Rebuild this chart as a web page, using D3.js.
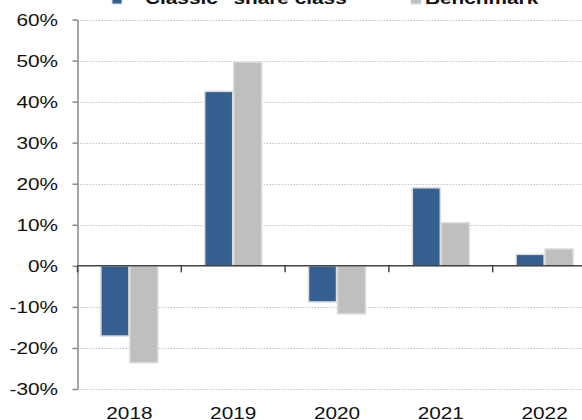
<!DOCTYPE html>
<html>
<head>
<meta charset="utf-8">
<script src="https://cdn.jsdelivr.net/npm/d3@7"></script>
<style>
  html, body { margin: 0; padding: 0; background: #fff; }
  svg { display: block; font-family: Arial, "Liberation Sans", sans-serif; }
</style>
</head>
<body>
<svg id="chart" width="582" height="420"></svg>
<script>
const categories = ["2018", "2019", "2020", "2021", "2022"];
const seriesNames = ["Classic\" share class", "Benchmark"];
const classicValues = [-17.1, 42.5, -8.8, 19.0, 2.8];
const benchmarkValues = [-23.6, 49.6, -11.7, 10.5, 4.1];
const yTickValues = [-30, -20, -10, 0, 10, 20, 30, 40, 50, 60];

const colors = { classic: "#365f91", bench: "#bfbfbf" };
const SX = 1.3; // horizontal stretch of text

const svg = d3.select("#chart");
const left = 77.5, step = 103.8;
const x = d3.scaleBand().domain(categories).range([left, left + step * categories.length]).padding(0);
const y = d3.scaleLinear().domain([-30, 60]).range([389, 19.5]);

// gridlines
svg.append("g").selectAll("line").data(yTickValues.filter(d => d !== 0)).join("line")
  .attr("x1", left).attr("x2", 582)
  .attr("y1", d => Math.round(y(d)) + 0.5).attr("y2", d => Math.round(y(d)) + 0.5)
  .attr("stroke", "#c4c4c4").attr("stroke-width", 1).attr("stroke-dasharray", "1.5,1.5");

// bars
const barW = 28;
const data = categories.map((c, i) => ({ c, a: classicValues[i], b: benchmarkValues[i] }));
const bars = svg.append("g");
bars.selectAll("rect.a").data(data).join("rect").attr("class", "a")
  .attr("x", d => x(d.c) + x.bandwidth() / 2 - barW - 0.5)
  .attr("width", barW)
  .attr("y", d => y(Math.max(0, d.a)))
  .attr("height", d => Math.abs(y(d.a) - y(0)))
  .attr("fill", colors.classic).attr("stroke", "#dcdcdc").attr("stroke-width", 1.5);
bars.selectAll("rect.b").data(data).join("rect").attr("class", "b")
  .attr("x", d => x(d.c) + x.bandwidth() / 2 + 0.5)
  .attr("width", barW)
  .attr("y", d => y(Math.max(0, d.b)))
  .attr("height", d => Math.abs(y(d.b) - y(0)))
  .attr("fill", colors.bench).attr("stroke", "#dcdcdc").attr("stroke-width", 1.5);

// y axis
const yAxis = svg.append("g").attr("transform", `translate(${left},0)`)
  .call(d3.axisLeft(y).tickValues(yTickValues).tickSize(5).tickSizeOuter(0).tickFormat(d => d + "%"));
yAxis.select(".domain").attr("stroke", "#888").attr("stroke-width", 1.5);
yAxis.selectAll(".tick line").attr("stroke", "#888").attr("stroke-width", 1.5);
yAxis.selectAll(".tick text")
  .attr("x", -(left - 58) / SX).attr("dy", "0.36em")
  .attr("transform", `scale(${SX},1)`)
  .attr("font-size", 16).attr("fill", "#111").attr("font-family", "Arial, 'Liberation Sans', sans-serif");

// zero line
svg.append("line").attr("x1", left).attr("x2", left + step * categories.length)
  .attr("y1", y(0)).attr("y2", y(0)).attr("stroke", "#444").attr("stroke-width", 1.5);

// x ticks at band boundaries
const bounds = categories.map(c => x(c));
svg.append("g").selectAll("line").data(bounds).join("line")
  .attr("x1", d => d).attr("x2", d => d)
  .attr("y1", y(0)).attr("y2", y(0) + 6.5)
  .attr("stroke", "#444").attr("stroke-width", 1.5);

// x labels
svg.append("g").selectAll("text").data(categories).join("text")
  .attr("transform", d => `translate(${x(d) + x.bandwidth() / 2},418.5) scale(${SX},1)`)
  .attr("text-anchor", "middle").attr("font-size", 16).attr("fill", "#111")
  .text(d => d);

// legend
const legend = [
  { name: seriesNames[0], color: colors.classic, sx: 112, tx: 145 },
  { name: seriesNames[1], color: colors.bench, sx: 411, tx: 425 }
];
const lg = svg.append("g");
lg.selectAll("rect").data(legend).join("rect")
  .attr("x", d => d.sx).attr("y", -6).attr("width", 10).attr("height", 10)
  .attr("fill", d => d.color).attr("stroke", "#dcdcdc").attr("stroke-width", 1);
lg.selectAll("text").data(legend).join("text")
  .attr("transform", d => `translate(${d.tx},3.5) scale(${SX},1)`)
  .attr("font-size", 16).attr("font-weight", "bold").attr("fill", "#111")
  .text(d => d.name);
</script>
</body>
</html>
